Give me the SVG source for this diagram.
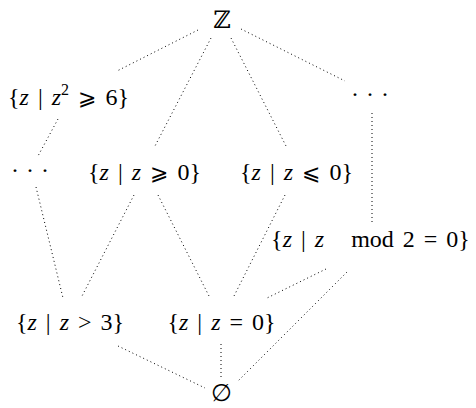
<svg xmlns="http://www.w3.org/2000/svg" width="476" height="408" viewBox="0 0 476 408">
<style>
text{font-size:24px;fill:#000;text-anchor:middle;word-spacing:3px}
.i{font-style:italic}
.d{letter-spacing:7px}
.e line{stroke:#000;stroke-width:1;stroke-dasharray:1 3;fill:none}
</style>
<rect width="476" height="408" fill="#fff"/>
<g class="e" id="connectors">
<line x1="198" y1="30" x2="117" y2="71"/>
<line x1="211" y1="38" x2="155" y2="146"/>
<line x1="231" y1="38" x2="286" y2="146"/>
<line x1="241" y1="29" x2="345" y2="81"/>
<line x1="58" y1="119" x2="38" y2="156"/>
<line x1="372" y1="113" x2="372" y2="222"/>
<line x1="36" y1="187" x2="63" y2="298"/>
<line x1="134" y1="195" x2="81" y2="298"/>
<line x1="158" y1="195" x2="210" y2="298"/>
<line x1="285" y1="195" x2="233" y2="298"/>
<line x1="326" y1="269" x2="267" y2="298"/>
<line x1="347" y1="272" x2="237" y2="382"/>
<line x1="118" y1="346" x2="205" y2="388"/>
<line x1="221" y1="344" x2="221" y2="378"/>
</g>
<g font-family="'Liberation Serif', 'DejaVu Serif', serif">
<g id="n-Z"><text x="222" y="28" font-family="'DejaVu Serif', serif" font-size="26">ℤ</text></g>
<g id="n-sq"><text x="68.5" y="105">{<tspan class="i">z</tspan> | <tspan class="i">z</tspan><tspan font-size="16" dy="-10">2</tspan><tspan dy="10"> </tspan><tspan font-family="'DejaVu Sans', sans-serif" font-size="22">⩾</tspan> 6}</text></g>
<g id="n-dots-r"><text x="373.5" y="102" class="d">···</text></g>
<g id="n-dots-l"><text x="33.5" y="178" class="d">···</text></g>
<g id="n-ge"><text x="144.5" y="180">{<tspan class="i">z</tspan> | <tspan class="i">z</tspan> <tspan font-family="'DejaVu Sans', sans-serif" font-size="22">⩾</tspan> 0}</text></g>
<g id="n-le"><text x="296.5" y="180">{<tspan class="i">z</tspan> | <tspan class="i">z</tspan> <tspan font-family="'DejaVu Sans', sans-serif" font-size="22">⩽</tspan> 0}</text></g>
<g id="n-mod"><text x="370.5" y="247" xml:space="preserve">{<tspan class="i">z</tspan> | <tspan class="i">z</tspan>   mod 2 = 0}</text></g>
<g id="n-gt3"><text x="70" y="330">{<tspan class="i">z</tspan> | <tspan class="i">z</tspan> &gt; 3}</text></g>
<g id="n-eq0"><text x="221.5" y="330">{<tspan class="i">z</tspan> | <tspan class="i">z</tspan> = 0}</text></g>
<g id="n-empty"><text x="221" y="401" font-family="'DejaVu Serif', serif" font-size="22">∅</text></g>
</g>
</svg>
